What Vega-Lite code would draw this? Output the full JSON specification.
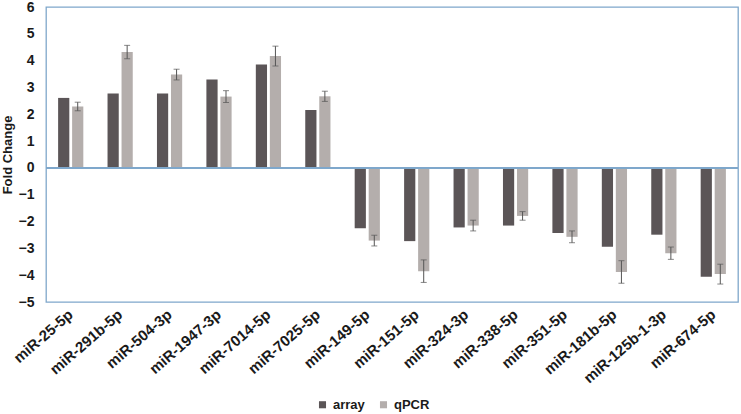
{
  "$schema": "https://vega.github.io/schema/vega-lite/v6.json",
  "width": 692,
  "height": 295,
  "autosize": "none",
  "padding": {"left": 46, "top": 7, "right": 3, "bottom": 112},
  "background": "white",
  "config": {
    "view": {"stroke": "#7FA7CB", "strokeWidth": 1.3},
    "font": "Liberation Sans"
  },
  "data": {
    "values": [
      {"mirna": "miR-25-5p", "method": "array", "value": 2.61},
      {"mirna": "miR-25-5p", "method": "qPCR", "value": 2.29, "lo": 2.13, "hi": 2.45},
      {"mirna": "miR-291b-5p", "method": "array", "value": 2.77},
      {"mirna": "miR-291b-5p", "method": "qPCR", "value": 4.32, "lo": 4.07, "hi": 4.57},
      {"mirna": "miR-504-3p", "method": "array", "value": 2.77},
      {"mirna": "miR-504-3p", "method": "qPCR", "value": 3.48, "lo": 3.28, "hi": 3.68},
      {"mirna": "miR-1947-3p", "method": "array", "value": 3.30},
      {"mirna": "miR-1947-3p", "method": "qPCR", "value": 2.66, "lo": 2.44, "hi": 2.88},
      {"mirna": "miR-7014-5p", "method": "array", "value": 3.86},
      {"mirna": "miR-7014-5p", "method": "qPCR", "value": 4.17, "lo": 3.80, "hi": 4.54},
      {"mirna": "miR-7025-5p", "method": "array", "value": 2.16},
      {"mirna": "miR-7025-5p", "method": "qPCR", "value": 2.67, "lo": 2.48, "hi": 2.86},
      {"mirna": "miR-149-5p", "method": "array", "value": -2.25},
      {"mirna": "miR-149-5p", "method": "qPCR", "value": -2.71, "lo": -2.91, "hi": -2.51},
      {"mirna": "miR-151-5p", "method": "array", "value": -2.73},
      {"mirna": "miR-151-5p", "method": "qPCR", "value": -3.85, "lo": -4.27, "hi": -3.43},
      {"mirna": "miR-324-3p", "method": "array", "value": -2.22},
      {"mirna": "miR-324-3p", "method": "qPCR", "value": -2.15, "lo": -2.35, "hi": -1.95},
      {"mirna": "miR-338-5p", "method": "array", "value": -2.15},
      {"mirna": "miR-338-5p", "method": "qPCR", "value": -1.79, "lo": -1.95, "hi": -1.63},
      {"mirna": "miR-351-5p", "method": "array", "value": -2.43},
      {"mirna": "miR-351-5p", "method": "qPCR", "value": -2.57, "lo": -2.79, "hi": -2.35},
      {"mirna": "miR-181b-5p", "method": "array", "value": -2.94},
      {"mirna": "miR-181b-5p", "method": "qPCR", "value": -3.88, "lo": -4.30, "hi": -3.46},
      {"mirna": "miR-125b-1-3p", "method": "array", "value": -2.49},
      {"mirna": "miR-125b-1-3p", "method": "qPCR", "value": -3.18, "lo": -3.41, "hi": -2.95},
      {"mirna": "miR-674-5p", "method": "array", "value": -4.06},
      {"mirna": "miR-674-5p", "method": "qPCR", "value": -3.96, "lo": -4.33, "hi": -3.59}
    ]
  },
  "encoding": {
    "x": {
      "field": "mirna",
      "type": "nominal",
      "sort": null,
      "scale": {"paddingInner": 0.49, "paddingOuter": 0.245},
      "axis": {
        "title": null,
        "labelAngle": -41,
        "labelAlign": "right",
        "labelBaseline": "middle",
        "labelFont": "Liberation Sans",
        "labelFontWeight": "bold",
        "labelFontSize": 15,
        "labelColor": "#1a1a1a",
        "labelPadding": 10,
        "labelOverlap": false,
        "ticks": false,
        "domain": false
      }
    },
    "xOffset": {"field": "method", "type": "nominal", "scale": {"paddingInner": 0.2}}
  },
  "layer": [
    {
      "mark": {"type": "bar"},
      "encoding": {
        "y": {
          "field": "value",
          "type": "quantitative",
          "scale": {"domain": [-5, 6], "nice": false},
          "axis": {
            "title": "Fold Change",
            "titleFont": "Liberation Sans",
            "titleFontWeight": "bold",
            "titleFontSize": 13,
            "titleColor": "#1a1a1a",
            "titlePadding": 4,
            "values": [-5, -4, -3, -2, -1, 0, 1, 2, 3, 4, 5, 6],
            "tickCount": 30,
            "format": "d",
            "labelOverlap": false,
            "labelFlush": false,
            "labelFont": "Liberation Sans",
            "labelFontWeight": "bold",
            "labelFontSize": 14,
            "labelColor": "#1a1a1a",
            "labelPadding": 12,
            "ticks": false,
            "domain": false,
            "grid": false
          }
        },
        "color": {
          "field": "method",
          "type": "nominal",
          "scale": {"domain": ["array", "qPCR"], "range": ["#5B5557", "#B4AEAC"]},
          "legend": {
            "title": null,
            "orient": "none",
            "direction": "horizontal",
            "legendX": 270,
            "legendY": 391,
            "symbolType": "square",
            "symbolSize": 50,
            "symbolStrokeWidth": 0,
            "labelFont": "Liberation Sans",
            "labelFontWeight": "bold",
            "labelFontSize": 13,
            "labelColor": "#1a1a1a",
            "columnPadding": 12
          }
        }
      }
    },
    {
      "mark": {"type": "rule", "color": "#7FA7CB", "strokeWidth": 1.3},
      "encoding": {"y": {"datum": 0, "type": "quantitative"}, "x": {"value": 0}, "x2": {"value": 692}, "xOffset": null}
    },
    {
      "transform": [{"filter": "datum.method === 'qPCR'"}],
      "mark": {"type": "rule", "color": "#555555", "strokeWidth": 1},
      "encoding": {
        "y": {"field": "lo", "type": "quantitative"},
        "y2": {"field": "hi"}
      }
    },
    {
      "transform": [{"filter": "datum.method === 'qPCR'"}],
      "mark": {"type": "tick", "color": "#555555", "thickness": 1, "size": 6},
      "encoding": {"y": {"field": "lo", "type": "quantitative"}}
    },
    {
      "transform": [{"filter": "datum.method === 'qPCR'"}],
      "mark": {"type": "tick", "color": "#555555", "thickness": 1, "size": 6},
      "encoding": {"y": {"field": "hi", "type": "quantitative"}}
    }
  ]
}
